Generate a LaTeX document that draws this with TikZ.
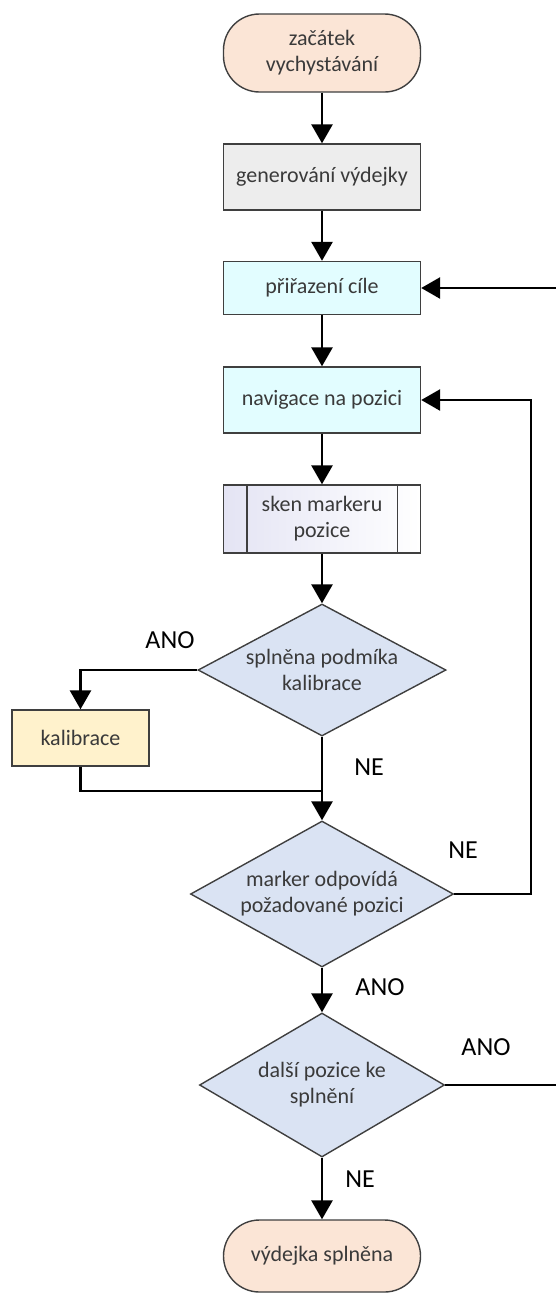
\documentclass[tikz,border=0pt]{standalone}
\usepackage{fontspec}
\setmainfont{Carlito}
\usetikzlibrary{arrows.meta,shapes.geometric}

\definecolor{termfill}{HTML}{FBE5D6}
\definecolor{genfill}{HTML}{EDEDED}
\definecolor{taskfill}{HTML}{E2FDFF}
\definecolor{decfill}{HTML}{DAE3F3}
\definecolor{kalfill}{HTML}{FFF2CC}
\definecolor{subfill}{HTML}{E4E4F4}
\definecolor{edge}{HTML}{3F3F3F}
\definecolor{ink}{HTML}{3A3A3A}

\begin{document}
\begin{tikzpicture}[x=1pt,y=-1pt,
  nodetext/.style={text=ink, font=\fontsize{22}{26}\selectfont, align=center},
  box/.style={nodetext, rectangle, draw=edge, line width=1.4pt, minimum width=197pt},
  term/.style={box, rounded corners=36pt, fill=termfill},
  task/.style={box, fill=taskfill},
  dec/.style={nodetext, diamond, draw=edge, line width=1.4pt, fill=decfill, inner sep=0pt},
  conn/.style={line width=2.8pt, black, -{Triangle[length=19pt,width=21pt]}},
  wire/.style={line width=2.8pt, black},
  answer/.style={text=black, font=\fontsize{26}{30}\selectfont}
]
\useasboundingbox (0,0) rectangle (556,1294);
\clip (0,0) rectangle (556,1294);

% process nodes
\node[term, minimum height=78pt] (start) at (322,53) {začátek\\vychystávání};
\node[box, fill=genfill, minimum height=66pt] (gen) at (322,177) {generování výdejky};
\node[task, minimum height=53pt] (prir) at (322,288) {přiřazení cíle};
\node[task, minimum height=66pt] (nav) at (322,400) {navigace na pozici};
\node[box, left color=subfill, right color=white, minimum height=68pt] (sken) at (322,519) {sken markeru\\pozice};
\draw[draw=edge, line width=1.4pt] ([xshift=24pt]sken.north west) -- ([xshift=24pt]sken.south west);
\draw[draw=edge, line width=1.4pt] ([xshift=-24pt]sken.north east) -- ([xshift=-24pt]sken.south east);

\node[dec, shape aspect=1.88, minimum width=248pt, minimum height=132pt] (d1) at (322,670) {splněna podmíka\\kalibrace};
\node[box, fill=kalfill, minimum width=137pt, minimum height=56pt] (kal) at (80.5,738) {kalibrace};
\node[dec, shape aspect=1.8, minimum width=263pt, minimum height=146pt] (d2) at (322,894) {marker odpovídá\\požadované pozici};
\node[dec, shape aspect=1.7, minimum width=245pt, minimum height=144pt] (d3) at (322,1085) {další pozice ke\\splnění};
\node[term, minimum height=72pt] (end) at (322,1256) {výdejka splněna};

% branch labels
\node[answer] (l1) at (170,640) {ANO};
\node[answer] (l2) at (369,767) {NE};
\node[answer] (l3) at (463,850) {NE};
\node[answer] (l4) at (380,987) {ANO};
\node[answer] (l5) at (486,1047) {ANO};
\node[answer] (l6) at (360,1179) {NE};

% helper points for the routed connectors
\coordinate (join) at (322,791);
\coordinate (backnav) at (531,400);
\coordinate (backprir) at (566,288);

% connectors
\draw[conn] (start) -- (gen);
\draw[conn] (gen) -- (prir);
\draw[conn] (prir) -- (nav);
\draw[conn] (nav) -- (sken);
\draw[conn] (sken) -- (d1);
\draw[conn] (d1.west) -| (kal.north);
\draw[wire] (kal.south) |- (join);
\draw[conn] (d1.south) -- (d2.north);
\draw[conn] (d2.east) -| (backnav) -- (nav.east);
\draw[conn] (d2.south) -- (d3.north);
\draw[conn] (d3.east) -| (backprir) -- (prir.east);
\draw[conn] (d3.south) -- (end.north);
\end{tikzpicture}
\end{document}
